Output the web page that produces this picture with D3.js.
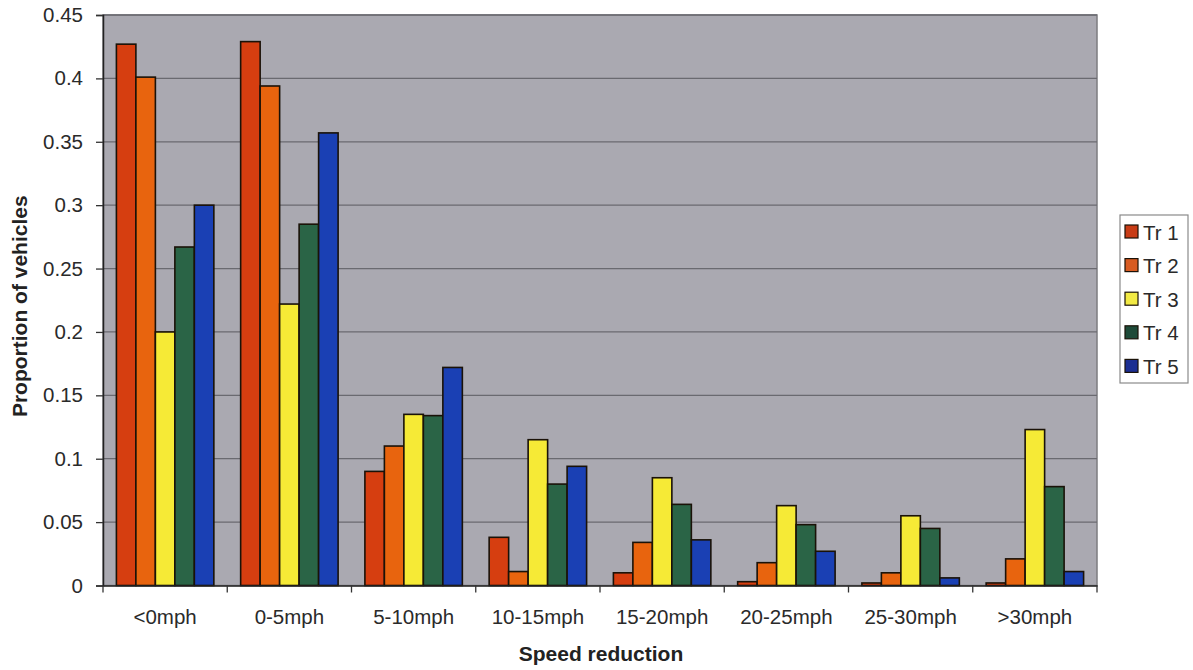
<!DOCTYPE html>
<html>
<head>
<meta charset="utf-8">
<script src="https://cdn.jsdelivr.net/npm/d3@7"></script>
<style>
  html, body { margin: 0; padding: 0; background: #ffffff; }
  svg { display: block; font-family: "Liberation Sans", Arial, sans-serif; }
</style>
</head>
<body>
<svg id="chart" width="1193" height="670"></svg>
<script>
// ---- data ----
const categories = ["<0mph", "0-5mph", "5-10mph", "10-15mph", "15-20mph", "20-25mph", "25-30mph", ">30mph"];
const seriesNames = ["Tr 1", "Tr 2", "Tr 3", "Tr 4", "Tr 5"];
const tr1 = [0.427, 0.429, 0.090, 0.038, 0.010, 0.003, 0.002, 0.002];
const tr2 = [0.401, 0.394, 0.110, 0.011, 0.034, 0.018, 0.010, 0.021];
const tr3 = [0.200, 0.222, 0.135, 0.115, 0.085, 0.063, 0.055, 0.123];
const tr4 = [0.267, 0.285, 0.134, 0.080, 0.064, 0.048, 0.045, 0.078];
const tr5 = [0.300, 0.357, 0.172, 0.094, 0.036, 0.027, 0.006, 0.011];
const seriesValues = [tr1, tr2, tr3, tr4, tr5];
const yTicks = [0, 0.05, 0.1, 0.15, 0.2, 0.25, 0.3, 0.35, 0.4, 0.45];
const yTickLabels = ["0", "0.05", "0.1", "0.15", "0.2", "0.25", "0.3", "0.35", "0.4", "0.45"];
const xTitle = "Speed reduction";
const yTitle = "Proportion of vehicles";

// ---- styles ----
const barColors = ["#d63e10", "#e8640e", "#f6ea36", "#2a6446", "#1a40b4"];
const legendColors = ["#c83c16", "#d85c22", "#f2ea44", "#1e4a38", "#1c2e92"];

const svg = d3.select("#chart");
const plot = { left: 103, right: 1097, top: 15, bottom: 585.5 };

const x0 = d3.scaleBand().domain(categories).range([plot.left, plot.right]).padding(0);
const gap = 13.4;
const x1 = d3.scaleBand().domain(seriesNames).range([gap, x0.bandwidth() - gap]).padding(0);
const y = d3.scaleLinear().domain([0, 0.45]).range([plot.bottom, plot.top]);

// plot background
svg.append("rect")
  .attr("x", plot.left).attr("y", plot.top)
  .attr("width", plot.right - plot.left).attr("height", plot.bottom - plot.top)
  .attr("fill", "#aaa9b1")
  .attr("stroke", "#7c7c80").attr("stroke-width", 1.5);

// gridlines
svg.append("g")
  .selectAll("line")
  .data(yTicks.filter(d => d > 0))
  .join("line")
  .attr("x1", plot.left).attr("x2", plot.right)
  .attr("y1", d => y(d)).attr("y2", d => y(d))
  .attr("stroke", "#6a6a70").attr("stroke-width", 1.3);

// bars
const groups = svg.append("g")
  .selectAll("g")
  .data(categories)
  .join("g")
  .attr("transform", d => `translate(${x0(d)},0)`);

groups.selectAll("rect")
  .data((c, ci) => seriesNames.map((s, si) => ({ s, si, v: seriesValues[si][ci] })))
  .join("rect")
  .attr("x", d => x1(d.s))
  .attr("width", x1.bandwidth())
  .attr("y", d => y(d.v))
  .attr("height", d => y(0) - y(d.v))
  .attr("fill", d => barColors[d.si])
  .attr("stroke", "#1a1208").attr("stroke-width", 1.6);

// y axis
const yAxis = d3.axisLeft(y)
  .tickValues(yTicks)
  .tickFormat((d, i) => yTickLabels[i])
  .tickSize(7)
  .tickPadding(13);
const gy = svg.append("g")
  .attr("transform", `translate(${plot.left},0)`)
  .call(yAxis);
gy.select(".domain").attr("stroke", "#222").attr("stroke-width", 1.5);
gy.selectAll(".tick line").attr("stroke", "#333").attr("stroke-width", 1.3);
gy.selectAll(".tick text")
  .attr("font-size", "20.5px").attr("fill", "#2a2a2a")
  .attr("font-family", "'Liberation Sans', Arial, sans-serif");

// x axis
const xAxis = d3.axisBottom(x0).tickSize(0).tickPadding(24);
const gx = svg.append("g")
  .attr("transform", `translate(0,${plot.bottom})`)
  .call(xAxis);
gx.select(".domain").attr("stroke", "#222").attr("stroke-width", 1.5);
gx.selectAll(".tick text")
  .attr("font-size", "20.5px").attr("fill", "#2a2a2a")
  .attr("font-family", "'Liberation Sans', Arial, sans-serif");
// x ticks between categories
gx.append("g")
  .selectAll("line")
  .data(categories.concat(["__end"]))
  .join("line")
  .attr("x1", (d, i) => i < categories.length ? x0(d) : plot.right)
  .attr("x2", (d, i) => i < categories.length ? x0(d) : plot.right)
  .attr("y1", 0).attr("y2", 7)
  .attr("stroke", "#333").attr("stroke-width", 1.3);

// axis titles
svg.append("text")
  .attr("x", (plot.left + plot.right) / 2 + 1)
  .attr("y", 661)
  .attr("text-anchor", "middle")
  .attr("font-size", "21px").attr("font-weight", "bold").attr("fill", "#222")
  .text(xTitle);

svg.append("text")
  .attr("transform", `translate(27,${(plot.top + plot.bottom) / 2 + 6}) rotate(-90)`)
  .attr("text-anchor", "middle")
  .attr("font-size", "21px").attr("font-weight", "bold").attr("fill", "#222")
  .text(yTitle);

// legend
const legend = { x: 1120, y: 215, w: 68, h: 168, rowStep: 33.6, first: 17 };
svg.append("rect")
  .attr("x", legend.x).attr("y", legend.y)
  .attr("width", legend.w).attr("height", legend.h)
  .attr("fill", "#ffffff").attr("stroke", "#8a8a8a").attr("stroke-width", 1.2);

const items = svg.append("g")
  .selectAll("g")
  .data(seriesNames)
  .join("g")
  .attr("transform", (d, i) => `translate(${legend.x + 5},${legend.y + legend.first + i * legend.rowStep})`);
items.append("rect")
  .attr("x", 0).attr("y", -7).attr("width", 13).attr("height", 13)
  .attr("fill", (d, i) => legendColors[i])
  .attr("stroke", "#1a1208").attr("stroke-width", 1.2);
items.append("text")
  .attr("x", 18).attr("y", 7.5)
  .attr("font-size", "20.5px").attr("fill", "#2a2a2a")
  .text(d => d);
</script>
</body>
</html>
